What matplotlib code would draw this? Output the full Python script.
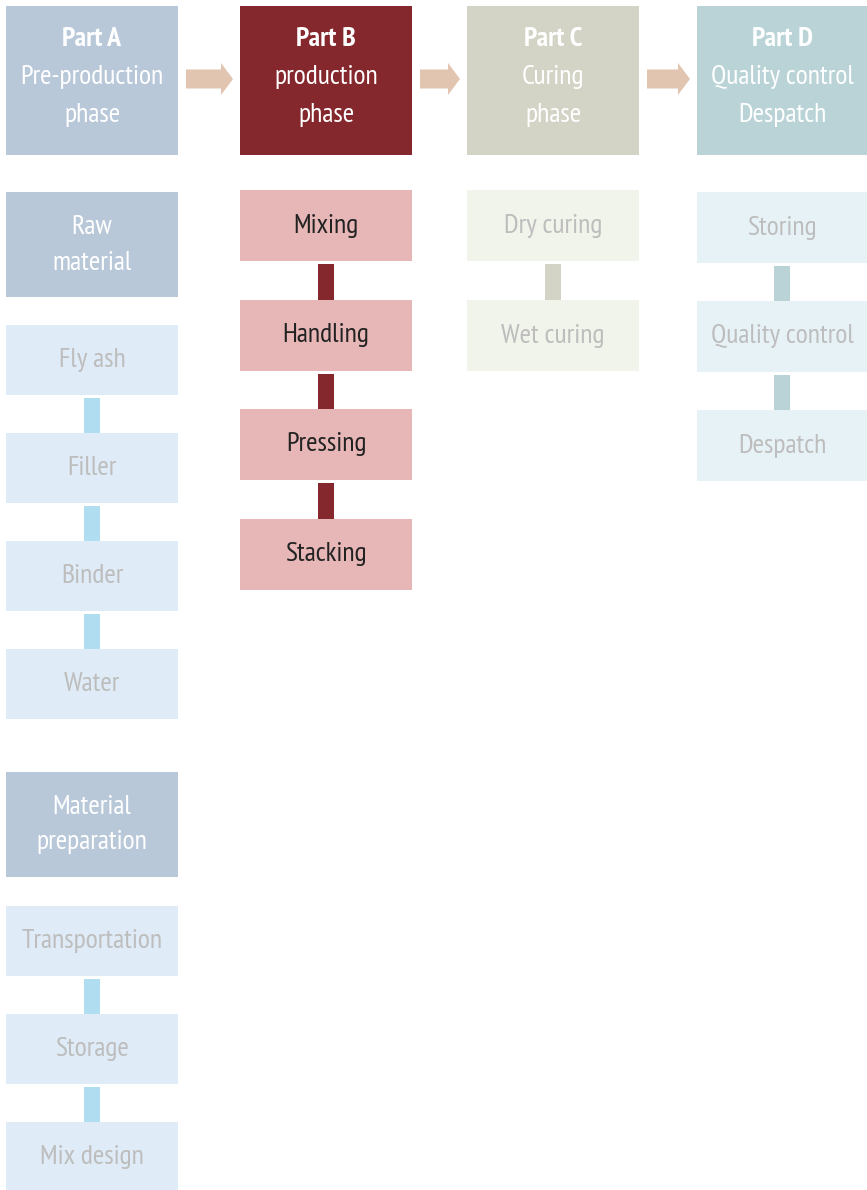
import matplotlib
matplotlib.use("Agg")
import matplotlib.pyplot as plt
from matplotlib.patches import Rectangle, FancyArrow
from matplotlib import font_manager

# ---------------- data ----------------
header_titles = ["Part A", "Part B", "Part C", "Part D"]
header_subtitles = [["Pre-production", "phase"], ["production", "phase"],
                    ["Curing", "phase"], ["Quality control", "Despatch"]]

raw_material_title = ["Raw", "material"]
raw_material_items = ["Fly ash", "Filler", "Binder", "Water"]
prep_title = ["Material", "preparation"]
prep_items = ["Transportation", "Storage", "Mix design"]
production_steps = ["Mixing", "Handling", "Pressing", "Stacking"]
curing_steps = ["Dry curing", "Wet curing"]
despatch_steps = ["Storing", "Quality control", "Despatch"]

# ---------------- styles ----------------
header_colors = ["#B8C8D9", "#85282D", "#D3D4C6", "#BAD3D7"]
box_colors = ["#DFEBF6", "#E6B7B6", "#F1F4EB", "#E7F2F7"]
conn_colors = ["#B1DDF0", "#85282D", "#D3D4C6", "#BAD3D7"]
text_colors = ["#BDBDBD", "#222222", "#BDBDBD", "#BDBDBD"]
arrow_color = "#E2C5B0"

entries = font_manager.fontManager.ttflist
candidates = ["Liberation Sans Narrow", "Arial Narrow", "PT Sans Narrow", "Archivo Narrow",
              "Roboto Condensed", "Pragati Narrow", "Open Sans Condensed"]
chosen = None
for c in candidates:
    ws = [e.weight for e in entries if e.name == c and e.style == "normal"]
    ws = [w if isinstance(w, int) else 400 for w in ws]
    if any(w >= 600 for w in ws) and any(w <= 500 for w in ws):
        chosen = c
        break
if chosen is None:
    for c in candidates:
        if any(e.name == c for e in entries):
            chosen = c
            break
fam = ([chosen] if chosen else []) + ["Liberation Sans", "DejaVu Sans"]
plt.rcParams["font.family"] = fam

W, H = 867, 1190
fig = plt.figure(figsize=(W / 100, H / 100), dpi=100)
ax = fig.add_axes([0, 0, 1, 1])
ax.set_xlim(0, W)
ax.set_ylim(H, 0)
ax.axis("off")

col_x = [6, 240, 467, 697]
col_w = [172, 172, 172, 170]
FS = 20


def conn(ci, y0, y1):
    cx = col_x[ci] + col_w[ci] / 2
    ax.add_patch(Rectangle((cx - 8, y0), 16, y1 - y0, facecolor=conn_colors[ci],
                           edgecolor="none"))


# headers
for i in range(4):
    x, w = col_x[i], col_w[i]
    ax.add_patch(Rectangle((x, 6), w, 149, facecolor=header_colors[i], edgecolor="none"))
    cx = x + w / 2
    ax.text(cx, 39, header_titles[i], ha="center", va="center", color="white",
            fontsize=FS, fontweight="bold")
    for k, s in enumerate(header_subtitles[i]):
        ax.text(cx, 77 + 38 * k, s, ha="center", va="center", color="white", fontsize=FS)

# arrows between headers
for i in range(3):
    xs = col_x[i] + col_w[i] + 8
    xe = col_x[i + 1] - 7
    ax.add_patch(FancyArrow(xs, 79, xe - xs, 0, width=19, head_width=32,
                            head_length=12, length_includes_head=True,
                            facecolor=arrow_color, edgecolor="none"))


def stack(ci, items, y_start, step, h):
    ys = []
    for k, lab in enumerate(items):
        y = y_start + step * k
        ys.append(y)
        ax.add_patch(Rectangle((col_x[ci], y), col_w[ci], h, facecolor=box_colors[ci],
                               edgecolor="none"))
        ax.text(col_x[ci] + col_w[ci] / 2, y + h / 2, lab, ha="center", va="center",
                color=text_colors[ci], fontsize=FS)
    for k in range(len(ys) - 1):
        conn(ci, ys[k] + h + 3, ys[k + 1])


def group_header(ci, lines, y, h):
    ax.add_patch(Rectangle((col_x[ci], y), col_w[ci], h, facecolor=header_colors[ci],
                           edgecolor="none"))
    cy = y + h / 2
    for k, s in enumerate(lines):
        ax.text(col_x[ci] + col_w[ci] / 2, cy + 36 * (k - (len(lines) - 1) / 2), s,
                ha="center", va="center", color="white", fontsize=FS)


# Column A
group_header(0, raw_material_title, 192, 105)
stack(0, raw_material_items, 325, 108, 70)
group_header(0, prep_title, 772, 105)
stack(0, prep_items, 906, 108, 70)

# Column B
stack(1, production_steps, 190, 109.5, 71)
# Column C
stack(2, curing_steps, 190, 110, 71)
# Column D
stack(3, despatch_steps, 192, 109, 71)

fig.savefig("out.png", dpi=100, facecolor="white")
